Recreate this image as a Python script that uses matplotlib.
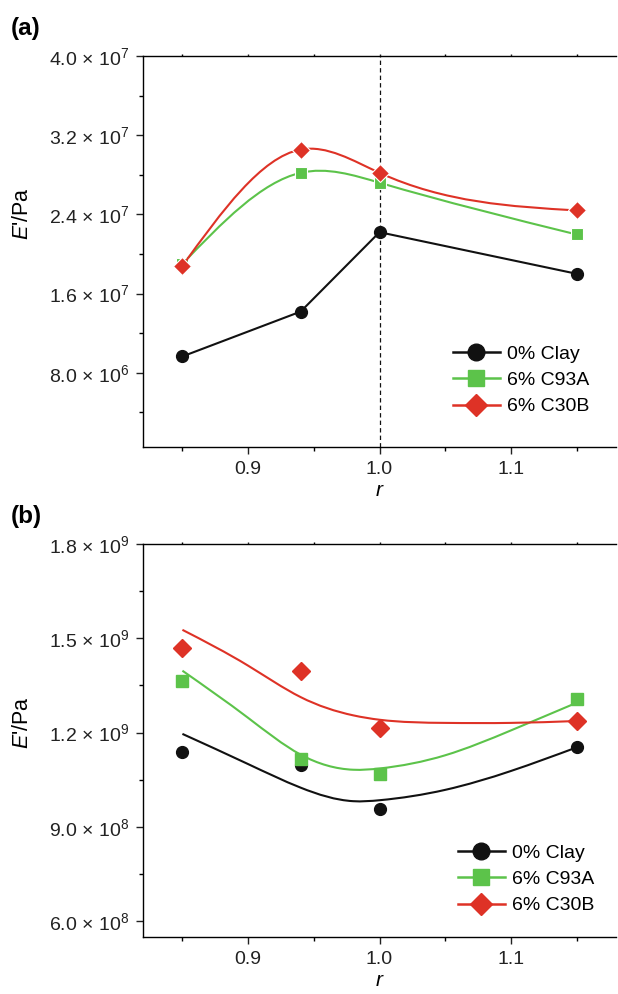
import numpy as np
import matplotlib
matplotlib.use('Agg')
import matplotlib.pyplot as plt
from matplotlib.path import Path
from matplotlib.patches import PathPatch
from matplotlib.lines import Line2D
from matplotlib.ticker import FixedLocator

plt.rcParams['font.family'] = ['Liberation Sans', 'DejaVu Sans']
plt.rcParams['mathtext.fontset'] = 'custom'
plt.rcParams['mathtext.rm'] = 'Liberation Sans'
plt.rcParams['mathtext.it'] = 'Liberation Sans:italic'

# ---- data ----
r = [0.85, 0.94, 1.00, 1.15]
labels = ['0% Clay', '6% C93A', '6% C30B']

# (a) storage modulus, connected points
a_clay = [9.65e6, 1.418e7, 2.22e7, 1.80e7]
a_c93a = [1.90e7, 2.82e7, 2.72e7, 2.197e7]
a_c30b = [1.88e7, 3.055e7, 2.82e7, 2.44e7]

# (b) points
b_clay = [1.137e9, 1.096e9, 0.956e9, 1.155e9]
b_c93a = [1.365e9, 1.117e9, 1.068e9, 1.308e9]
b_c30b = [1.468e9, 1.397e9, 1.216e9, 1.237e9]

# (b) fitted trend curves as drawn in the original
fit_r = [0.85, 0.90, 0.94, 0.98, 1.00, 1.05, 1.10, 1.15]
fit_clay = [1.196e9, 1.100e9, 1.025e9, 0.982e9, 0.985e9, 1.018e9, 1.078e9, 1.153e9]
fit_c93a = [1.397e9, 1.247e9, 1.130e9, 1.082e9, 1.086e9, 1.128e9, 1.207e9, 1.295e9]
fit_c30b = [1.527e9, 1.413e9, 1.313e9, 1.255e9, 1.241e9, 1.231e9, 1.231e9, 1.237e9]

xticks_major = [0.9, 1.0, 1.1]
xticks_minor = [0.85, 0.95, 1.05, 1.15]
a_yticks = [8.0e6, 1.6e7, 2.4e7, 3.2e7, 4.0e7]
a_ylabels = ['8.0 × 10$^{6}$', '1.6 × 10$^{7}$', '2.4 × 10$^{7}$',
             '3.2 × 10$^{7}$', '4.0 × 10$^{7}$']
a_yminor = [4e6, 1.2e7, 2.0e7, 2.8e7, 3.6e7]
b_yticks = [6.0e8, 9.0e8, 1.2e9, 1.5e9, 1.8e9]
b_ylabels = ['6.0 × 10$^{8}$', '9.0 × 10$^{8}$', '1.2 × 10$^{9}$',
             '1.5 × 10$^{9}$', '1.8 × 10$^{9}$']
b_yminor = [7.5e8, 1.05e9, 1.35e9, 1.65e9]

BLACK = '#111111'
GREEN = '#5cc34a'
RED = '#de3226'
FS = 14


def spline_path(x, y):
    # natural cubic spline through the points, drawn as bezier segments
    x = np.asarray(x, float)
    y = np.asarray(y, float)
    n = len(x)
    h = np.diff(x)
    d = np.diff(y) / h
    M = np.zeros(n)
    if n > 2:
        A = np.zeros((n - 2, n - 2))
        b = np.zeros(n - 2)
        for i in range(1, n - 1):
            A[i - 1, i - 1] = 2 * (h[i - 1] + h[i])
            if i > 1:
                A[i - 1, i - 2] = h[i - 1]
            if i < n - 2:
                A[i - 1, i] = h[i]
            b[i - 1] = 6 * (d[i] - d[i - 1])
        M[1:-1] = np.linalg.solve(A, b)
    m = np.zeros(n)
    m[:-1] = d - h * (2 * M[:-1] + M[1:]) / 6
    m[-1] = d[-1] + h[-1] * (M[-2] + 2 * M[-1]) / 6
    verts = [(x[0], y[0])]
    codes = [Path.MOVETO]
    for i in range(n - 1):
        verts += [(x[i] + h[i] / 3, y[i] + m[i] * h[i] / 3),
                  (x[i + 1] - h[i] / 3, y[i + 1] - m[i + 1] * h[i] / 3),
                  (x[i + 1], y[i + 1])]
        codes += [Path.CURVE4] * 3
    return Path(verts, codes)


def style_axes(ax, yticks, ylabels, yminor, ylim):
    ax.set_xlim(0.82, 1.18)
    ax.set_ylim(*ylim)
    ax.spines['right'].set_visible(False)
    for s in ['left', 'bottom', 'top']:
        ax.spines[s].set_linewidth(1.0)
    ax.xaxis.set_major_locator(FixedLocator(xticks_major))
    ax.xaxis.set_minor_locator(FixedLocator(xticks_minor))
    ax.set_xticklabels(['0.9', '1.0', '1.1'])
    ax.set_yticks(yticks)
    ax.set_yticklabels(ylabels)
    ax.yaxis.set_minor_locator(FixedLocator(yminor))
    ax.tick_params(axis='both', which='major', direction='out', length=5,
                   width=1.0, labelsize=FS, pad=5, colors='#222222')
    ax.tick_params(axis='both', which='minor', direction='out', length=3, width=1.0)
    ax.xaxis.set_tick_params(which='both', top=True)
    for t in ax.xaxis.get_major_ticks() + ax.xaxis.get_minor_ticks():
        t.tick2line.set_markersize(1.5)
    ax.set_xlabel(r'$r$', fontsize=FS + 1, labelpad=2)


fig = plt.figure(figsize=(6.18, 9.94), dpi=100)
W, H = 618, 994
ax1 = fig.add_axes([143 / W, 1 - 447 / H, 473 / W, 391 / H])
ax2 = fig.add_axes([143 / W, 1 - 937 / H, 473 / W, 393 / H])

MS_O, MS_S, MS_D = 8.5, 8.0, 9.5

# ---- panel (a) ----
ax1.axvline(1.0, color=BLACK, lw=0.9, ls=(0, (3.5, 2.5)), zorder=1)
ax1.plot(r, a_clay, color=BLACK, lw=1.5, marker='o', ms=MS_O, zorder=3)
ax1.add_patch(PathPatch(spline_path(r, a_c93a), fill=False, ec=GREEN, lw=1.5, zorder=3))
ax1.plot(r, a_c93a, ls='none', marker='s', ms=MS_S, color=GREEN, mec='white', mew=0.8, zorder=4)
ax1.add_patch(PathPatch(spline_path(r, a_c30b), fill=False, ec=RED, lw=1.5, zorder=5))
ax1.plot(r, a_c30b, ls='none', marker='D', ms=MS_D, color=RED, mec='white', mew=0.8, zorder=6)
style_axes(ax1, a_yticks, a_ylabels, a_yminor, (5e5, 4e7))

# ---- panel (b) ----
ax2.add_patch(PathPatch(spline_path(fit_r, fit_clay), fill=False, ec=BLACK, lw=1.5, zorder=3))
ax2.add_patch(PathPatch(spline_path(fit_r, fit_c93a), fill=False, ec=GREEN, lw=1.5, zorder=3))
ax2.add_patch(PathPatch(spline_path(fit_r, fit_c30b), fill=False, ec=RED, lw=1.5, zorder=3))
ax2.plot(r, b_clay, ls='none', marker='o', ms=MS_O, color=BLACK, zorder=4)
ax2.plot(r, b_c93a, ls='none', marker='s', ms=MS_S, color=GREEN, zorder=5)
ax2.plot(r, b_c30b, ls='none', marker='D', ms=MS_D, color=RED, zorder=6)
style_axes(ax2, b_yticks, b_ylabels, b_yminor, (5.5e8, 1.8e9))

handles = [Line2D([], [], color=BLACK, lw=1.8, marker='o', ms=12),
           Line2D([], [], color=GREEN, lw=1.8, marker='s', ms=11),
           Line2D([], [], color=RED, lw=1.8, marker='D', ms=11.5)]
for ax, (lx, ly) in [(ax1, (453, 345)), (ax2, (458, 844))]:
    ax.legend(handles, labels, loc='upper left', bbox_to_anchor=(lx / W, 1 - ly / H),
              bbox_transform=fig.transFigure, frameon=False, fontsize=FS,
              handlelength=2.4, handletextpad=0.4,
              labelspacing=0.45, borderpad=0, borderaxespad=0)

for ax, yc in [(ax1, 214), (ax2, 723)]:
    ax.set_ylabel(r"$E$'/Pa", fontsize=FS + 1.5)
    ax.yaxis.set_label_coords(33 / W, 1 - yc / H, transform=fig.transFigure)

fig.text(11 / W, 1 - 28 / H, '(a)', fontsize=17.5, fontweight='bold', va='center')
fig.text(11 / W, 1 - 517 / H, '(b)', fontsize=17.5, fontweight='bold', va='center')

fig.savefig('out.png', dpi=100)
